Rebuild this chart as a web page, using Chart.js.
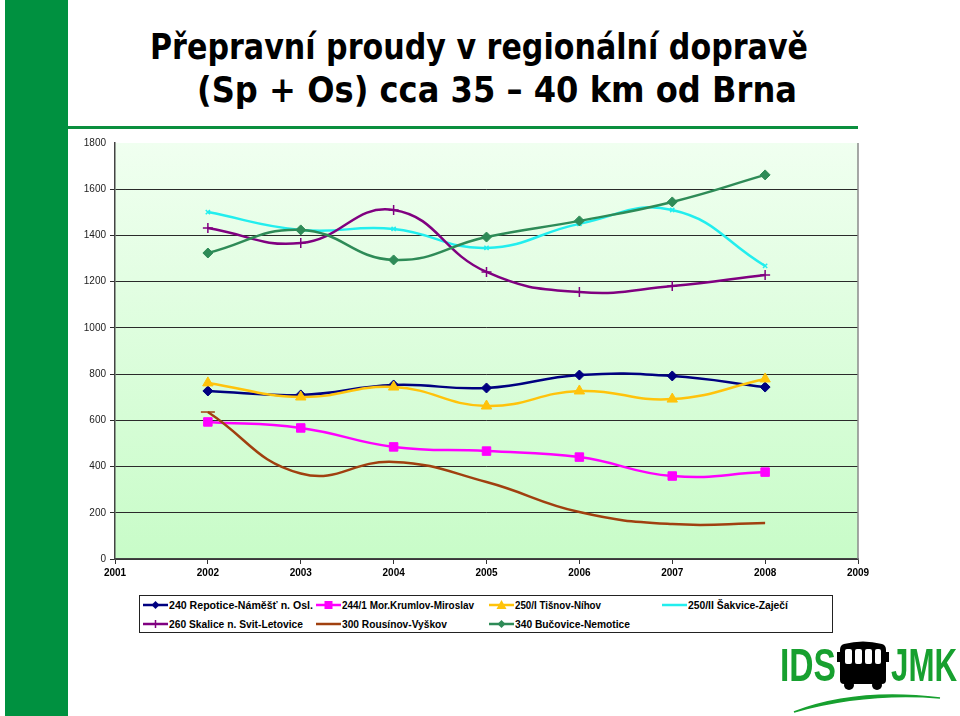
<!DOCTYPE html>
<html>
<head>
<meta charset="utf-8">
<script src="https://cdn.jsdelivr.net/npm/chart.js@4.4.1/dist/chart.umd.min.js"></script>
<style>
  html,body{margin:0;padding:0;background:#fff;}
  #page{position:relative;width:960px;height:716px;overflow:hidden;background:#fff;}
  #leftbar{position:absolute;left:5px;top:0;width:63px;height:716px;background:#009140;}
  #rule{position:absolute;left:68px;top:126px;width:790px;height:3px;background:#0b8f3e;}
  .title{position:absolute;white-space:nowrap;font-family:"DejaVu Sans",sans-serif;font-weight:bold;font-size:36px;line-height:36px;color:#000;transform-origin:0 0;display:inline-block;}
  #chart{position:absolute;left:0;top:0;}
  #legend{position:absolute;left:139px;top:595px;width:692px;height:36px;border:1px solid #222;background:#fff;}
  .li{position:absolute;height:14px;white-space:nowrap;}
  .li svg{position:absolute;left:0;top:0;}
  .li span{position:absolute;left:26px;top:0;font-family:"Liberation Sans",Arial,sans-serif;font-weight:bold;font-size:10.5px;line-height:14px;color:#000;transform-origin:0 50%;display:inline-block;}
  #logo{position:absolute;left:776px;top:636px;width:184px;height:80px;}
  .lg{position:absolute;top:6px;font-family:"Liberation Sans Narrow","Liberation Sans",Arial,sans-serif;font-weight:bold;font-size:46px;line-height:46px;color:#17a02f;transform-origin:0 0;display:inline-block;}
</style>
</head>
<body>
<div id="page">
  <div id="leftbar"></div>
  <div id="rule"></div>
  <div class="title" id="t1" style="left:150px;top:29px;">Přepravní proudy v regionální dopravě</div>
  <div class="title" id="t2" style="left:197px;top:72px;">(Sp + Os) cca 35 – 40 km od Brna</div>
  <canvas id="chart" width="960" height="716"></canvas>
  <div id="legend"></div>
  <div id="logo">
    <div class="lg" id="lgIDS" style="left:4px;">IDS</div>
    <svg style="position:absolute;left:60px;top:4px;" width="54" height="52" viewBox="0 0 54 52">
      <path d="M8 4 Q27 -1 46 4 Q50 5 50 10 L50 40 Q50 44 46 44 L8 44 Q4 44 4 40 L4 10 Q4 5 8 4 Z" fill="#000"/>
      <rect x="1" y="12" width="4" height="10" fill="#000"/>
      <rect x="49" y="12" width="4" height="10" fill="#000"/>
      <rect x="9" y="9" width="7" height="15" rx="2" fill="#fff"/>
      <rect x="19" y="9" width="7" height="15" rx="2" fill="#fff"/>
      <rect x="29" y="9" width="7" height="15" rx="2" fill="#fff"/>
      <rect x="39" y="9" width="6" height="15" rx="2" fill="#fff"/>
      <circle cx="13" cy="45" r="5" fill="#000"/>
      <circle cx="41" cy="45" r="5" fill="#000"/>
    </svg>
    <div class="lg" id="lgJMK" style="left:115px;">JMK</div>
    <svg style="position:absolute;left:0;top:50px;" width="184" height="30" viewBox="0 0 184 30">
      <path d="M18 26 Q80 2 164 12 Q90 6 18 26 Z" fill="#17a02f" stroke="#17a02f" stroke-width="1.5"/>
    </svg>
  </div>
</div>
<script>
// ---- data ----
const years = [2002, 2003, 2004, 2005, 2006, 2007, 2008];
const xTickLabels = ['2001','2002','2003','2004','2005','2006','2007','2008','2009'];
const yTickLabels = ['0','200','400','600','800','1000','1200','1400','1600','1800'];
const seriesNames = [
  '240 Repotice-Náměšť n. Osl.',
  '244/1 Mor.Krumlov-Miroslav',
  '250/I Tišnov-Níhov',
  '250/II Šakvice-Zaječí',
  '260 Skalice n. Svit-Letovice',
  '300 Rousínov-Vyškov',
  '340 Bučovice-Nemotice'
];
const s240  = [727, 710, 753, 740, 796, 792, 744];
const s2441 = [593, 567, 485, 467, 441, 359, 376];
const s250I = [762, 701, 744, 662, 727, 692, 779];
const s250II= [1501, 1424, 1428, 1346, 1450, 1510, 1268];
const s260  = [1432, 1367, 1510, 1242, 1155, 1181, 1229];
const s300  = [636, 370, 420, 333, 203, 151, 156];
const s340  = [1324, 1424, 1294, 1393, 1463, 1545, 1662];

// ---- styles ----
const seriesValues = [s240, s2441, s250I, s250II, s260, s300, s340];
const colors = ['#000080', '#ff00ff', '#ffc30b', '#22eeee', '#800080', '#a0400f', '#2e8b57'];
const pStyles = ['rectRot', 'rect', 'triangle', 'crossRot', 'cross', 'line', 'rectRot'];
const pRadius = [5, 6, 6, 3, 5, 6, 5];

const N = seriesValues.length;
const datasets = seriesValues.map((vals, i) => ({
  label: seriesNames[i],
  data: vals.map((v, k) => ({x: years[k], y: v})),
  borderColor: colors[i],
  backgroundColor: colors[i],
  borderWidth: 2.5,
  pointStyle: pStyles[i],
  pointRadius: i === 5 ? vals.map((v, k) => k === 0 ? 7 : 0) : pRadius[i],
  pointBorderWidth: (pStyles[i] === 'cross' || pStyles[i] === 'crossRot' || pStyles[i] === 'line') ? 1.5 : 1,
  pointBackgroundColor: colors[i],
  pointBorderColor: colors[i],
  tension: 0.45,
  fill: false,
  order: N - 1 - i
}));

const bgPlugin = {
  id: 'bg',
  beforeDraw(chart) {
    const {ctx, chartArea: a} = chart;
    const g = ctx.createLinearGradient(0, a.top, 0, a.bottom);
    g.addColorStop(0, '#f0fff0');
    g.addColorStop(1, '#c8fcc8');
    ctx.save();
    ctx.fillStyle = g;
    ctx.fillRect(a.left, a.top, a.right - a.left, a.bottom - a.top);
    ctx.restore();
  },
  afterDraw(chart) {
    const {ctx, chartArea: a} = chart;
    ctx.save();
    ctx.strokeStyle = '#8a8a8a';
    ctx.lineWidth = 1.5;
    ctx.beginPath();
    ctx.moveTo(a.right, a.top);
    ctx.lineTo(a.right, a.bottom);
    ctx.stroke();
    ctx.restore();
  }
};

new Chart(document.getElementById('chart'), {
  type: 'line',
  data: { datasets },
  options: {
    responsive: false,
    animation: false,
    layout: { padding: { left: 70, top: 143, right: 102, bottom: 127 } },
    plugins: { legend: { display: false }, tooltip: { enabled: false } },
    scales: {
      x: {
        type: 'linear', min: 2001, max: 2009,
        afterFit(s) { s.height = 30; },
        ticks: {
          stepSize: 1, padding: 3, color: '#000',
          font: { family: '"Liberation Sans", Arial, sans-serif', size: 10, weight: 'bold' },
          callback: (v) => xTickLabels[Math.round(v) - 2001]
        },
        grid: { drawOnChartArea: false, drawTicks: true, tickLength: 5, color: '#333', lineWidth: 1 },
        border: { display: true, color: '#444', width: 1.5 }
      },
      y: {
        min: 0, max: 1800,
        afterFit(s) { s.width = 45; },
        ticks: {
          stepSize: 200, padding: 4, color: '#222',
          font: { family: '"Liberation Sans", Arial, sans-serif', size: 10 },
          callback: (v) => yTickLabels[Math.round(v / 200)]
        },
        grid: { color: (c) => c.tick && c.tick.value === 1800 ? 'rgba(0,0,0,0)' : '#2a2a2a', lineWidth: 1, drawTicks: true, tickLength: 5 },
        border: { display: true, color: '#444', width: 1.5 }
      }
    }
  },
  plugins: [bgPlugin]
});

// ---- legend ----
const legend = document.getElementById('legend');
const colX = [3, 176, 349, 522];
const rowY = [2, 21];
function markerSvg(i) {
  const c = colors[i], cx = 12.5, cy = 7;
  let m = '';
  switch (pStyles[i]) {
    case 'rectRot': m = `<polygon points="${cx},${cy-4} ${cx+4},${cy} ${cx},${cy+4} ${cx-4},${cy}" fill="${c}"/>`; break;
    case 'rect': m = `<rect x="${cx-4}" y="${cy-4}" width="8" height="8" fill="${c}"/>`; break;
    case 'triangle': m = `<polygon points="${cx},${cy-5} ${cx+5},${cy+4} ${cx-5},${cy+4}" fill="${c}"/>`; break;
    case 'cross': m = `<path d="M${cx} ${cy-4} V${cy+4} M${cx-4} ${cy} H${cx+4}" stroke="${c}" stroke-width="1.5"/>`; break;
    default: m = '';
  }
  return `<svg width="25" height="14"><line x1="0" y1="${cy}" x2="25" y2="${cy}" stroke="${c}" stroke-width="2.5"/>${m}</svg>`;
}
seriesNames.forEach((name, i) => {
  const d = document.createElement('div');
  d.className = 'li';
  d.style.left = colX[i % 4] + 'px';
  d.style.top = rowY[Math.floor(i / 4)] + 'px';
  d.innerHTML = markerSvg(i) + '<span></span>';
  d.querySelector('span').textContent = name;
  legend.appendChild(d);
});

// fit text widths
function fitW(el, w) {
  const cur = el.getBoundingClientRect().width;
  if (cur > 0) el.style.transform = `scaleX(${w / cur})`;
}
fitW(document.getElementById('t1'), 658);
fitW(document.getElementById('t2'), 600);
fitW(document.getElementById('lgIDS'), 56);
fitW(document.getElementById('lgJMK'), 66);
const legendW = [144, 132, 86, 100, 134, 105, 115];
legend.querySelectorAll('.li span').forEach((s, i) => fitW(s, legendW[i]));
</script>
</body>
</html>
